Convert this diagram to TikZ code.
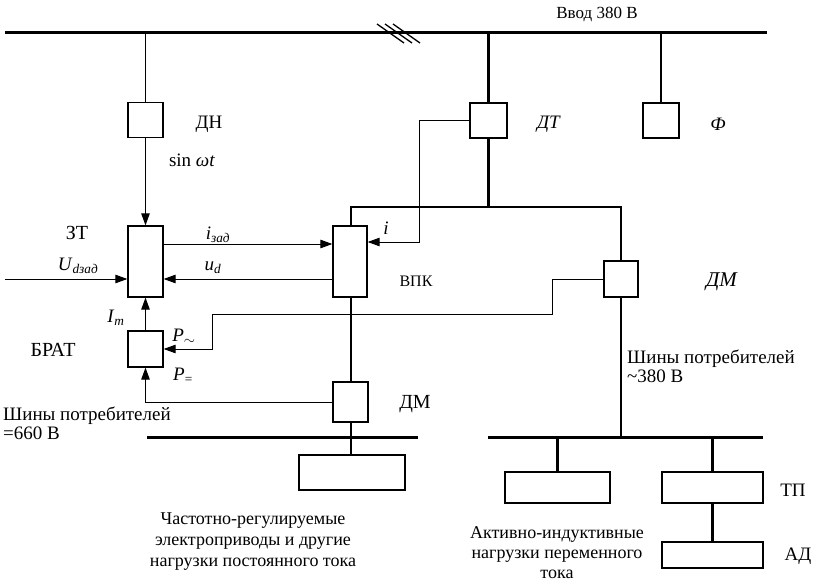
\documentclass[tikz,border=0pt]{standalone}
\usepackage{fontspec}
\setmainfont{Liberation Serif}
\usetikzlibrary{arrows.meta}
\begin{document}
\begin{tikzpicture}[x=1pt,y=-1pt,
 box/.style={draw, line width=1.3pt, inner sep=0pt},
 sig/.style={line width=1pt},
 arr/.style={line width=1pt,-{Triangle[length=12pt,width=8.5pt]}},
 pow/.style={line width=2.2pt},
 bus/.style={line width=3pt},
 lbl/.style={font=\fontsize{19}{21}\selectfont, inner sep=0pt},
 captxt/.style={font=\fontsize{18}{21}\selectfont, align=center, inner sep=0pt},
]
\useasboundingbox (0,0) rectangle (832,588);
% boxes
\node[box, minimum width=35pt, minimum height=35pt] (dn) at (145.5,120) {};
\node[box, minimum width=37pt, minimum height=35pt] (dt) at (488.5,120.5) {};
\node[box, minimum width=36pt, minimum height=35pt] (f) at (661,120.5) {};
\node[box, minimum width=35pt, minimum height=71pt] (zt) at (145.5,261.5) {};
\node[box, minimum width=34pt, minimum height=71pt] (vpk) at (350,261.5) {};
\node[box, minimum width=34pt, minimum height=36pt] (dmr) at (621,279) {};
\node[box, minimum width=35pt, minimum height=36pt] (brat) at (145.5,349) {};
\node[box, minimum width=35pt, minimum height=40pt] (dml) at (350.5,402) {};
\node[box, minimum width=106pt, minimum height=35pt] (loadl) at (352,472.5) {};
\node[box, minimum width=105pt, minimum height=31pt] (loadm) at (557.5,487.5) {};
\node[box, minimum width=101pt, minimum height=31pt] (tp) at (712.5,487.5) {};
\node[box, minimum width=101pt, minimum height=26pt] (ad) at (712.5,555) {};
% buses
\coordinate (b1) at (5,33);
\coordinate (b2) at (767,33);
\draw[bus] (b1) -- (b2);
\coordinate (bl1) at (147,437);
\coordinate (bl2) at (418,437);
\draw[bus] (bl1) -- (bl2);
\coordinate (br1) at (488,437);
\coordinate (br2) at (763,437);
\draw[bus] (br1) -- (br2);
% slashes
\coordinate (s1a) at (377,24); \coordinate (s1b) at (404,43);
\coordinate (s2a) at (385,24); \coordinate (s2b) at (412,43);
\coordinate (s3a) at (393,24); \coordinate (s3b) at (420,43);
\draw[line width=1.3pt] (s1a) -- (s1b) (s2a) -- (s2b) (s3a) -- (s3b);
% power connections
\draw[sig] (dn.north |- b1) -- (dn.north);
\draw[pow] (dt.north |- b1) -- (dt.north);
\draw[pow] (f.north |- b1) -- (f.north);
\coordinate (jl) at (351,207);
\coordinate (jr) at (621,207);
\draw[pow] (dt.south) -- (dt.south |- jl);
\draw[pow] (vpk.north -| jl) -- (jl) -- (jr) -- (dmr.north);
\draw[pow] (dmr.south) -- (dmr.south |- br1);
\draw[pow] (vpk.south -| jl) -- (dml.north -| jl);
\draw[pow] (dml.south -| jl) -- (loadl.north -| jl);
\draw[pow] (loadm.north |- br1) -- (loadm.north);
\draw[pow] (tp.north |- br1) -- (tp.north);
\draw[pow] (tp.south) -- (ad.north);
% signal connections
\draw[arr] (dn.south) -- (zt.north);
\coordinate (iz) at (0,244);
\draw[arr] (zt.east |- iz) -- (vpk.west |- iz);
\coordinate (ud) at (0,279);
\draw[arr] (vpk.west |- ud) -- (zt.east |- ud);
\coordinate (uin) at (5,279);
\draw[arr] (uin) -- (zt.west |- uin);
\coordinate (fb) at (419,242);
\draw[arr] (dt.west) -| (fb) -- (vpk.east |- fb);
\draw[arr] (brat.north) -- (zt.south);
\coordinate (pa) at (552,314);
\coordinate (pb) at (212,349);
\draw[arr] (dmr.west) -| (pa) -| (pb) -- (brat.east |- pb);
\draw[arr] (dml.west) -| (brat.south);
% labels
\node[font=\fontsize{17}{19}\selectfont, inner sep=0pt] (vvod) at (597,14) {Ввод 380 В};
\node[lbl] (ldn) at (209,124) {ДН};
\node[lbl] (ldt) at (549,124) {\textit{ДТ}};
\node[lbl] (lf) at (718,124) {\textit{Ф}};
\node[lbl] (lsin) at (192,160) {sin \textit{ωt}};
\node[lbl, font=\fontsize{20}{22}\selectfont] (lzt) at (77,233) {ЗТ};
\node[lbl] (liz) at (218,235) {\textit{i}\textsubscript{\textit{зад}}};
\node[lbl] (lud) at (213,268) {\textit{u}\textsubscript{\textit{d}}};
\node[lbl] (luin) at (78,266) {\textit{U}\textsubscript{\textit{dзад}}};
\node[lbl] (li) at (386,228) {\textit{i}};
\node[lbl, font=\fontsize{16}{18}\selectfont] (lvpk) at (416,281) {ВПК};
\node[lbl, font=\fontsize{21}{23}\selectfont] (ldmr) at (722,282) {\textit{ДМ}};
\node[lbl] (lim) at (116,318) {\textit{I}\textsubscript{\textit{m}}};
\node[lbl, font=\fontsize{20}{22}\selectfont] (lbrat) at (53,350) {БРАТ};
\node[lbl] (lpa) at (184,337) {\textit{P}\textsubscript{$\sim$}};
\node[lbl] (lpd) at (183,376) {\textit{P}\textsubscript{=}};
\node[lbl, font=\fontsize{20}{22}\selectfont] (ldml) at (415,404) {ДМ};
\node[lbl] (ltp) at (793,490) {ТП};
\node[lbl] (lad) at (798,556) {АД};
\node[lbl, anchor=base west] (lsh1) at (3,420) {Шины потребителей};
\node[lbl, anchor=base west] (lsh1b) at (3,439) {=660 В};
\node[lbl, anchor=base west] (lsh2) at (627,363) {Шины потребителей};
\node[lbl, anchor=base west] (lsh2b) at (627,382) {\textasciitilde380 В};
\node[captxt] (capl) at (253,542) {Частотно-регулируемые\\электроприводы и другие\\нагрузки постоянного тока};
\node[captxt, font=\fontsize{18}{20}\selectfont] (capr) at (557,553) {Активно-индуктивные\\нагрузки переменного\\тока};
\end{tikzpicture}
\end{document}
